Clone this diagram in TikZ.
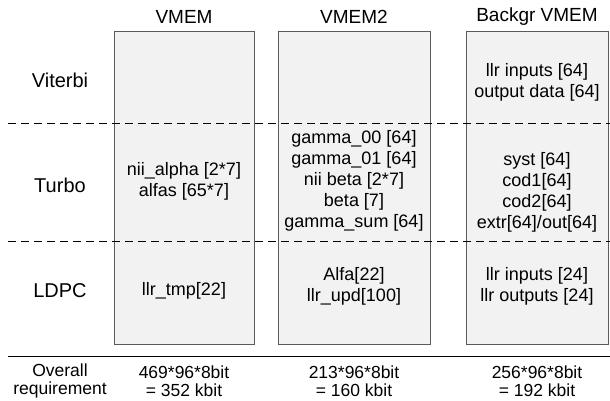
\documentclass[tikz,border=0pt]{standalone}
\usepackage{fontspec}
\setmainfont{Liberation Sans}
\usetikzlibrary{positioning}
\definecolor{memfill}{RGB}{242,242,242}
\definecolor{memline}{RGB}{90,90,90}
\tikzset{
  membox/.style={draw=memline, fill=memfill, semithick, minimum height=313pt, inner sep=0pt},
  memtext/.style={align=center, font=\fontsize{18}{21}\selectfont},
  sumtext/.style={align=center, font=\fontsize{17.5}{17.5}\selectfont},
  coltitle/.style={font=\fontsize{19}{22}\selectfont},
  rowlabel/.style={font=\fontsize{20}{24}\selectfont},
  sepline/.style={dash pattern=on 8pt off 5pt, thin},
}
\begin{document}
\begin{tikzpicture}[x=1pt, y=1pt]
  \useasboundingbox (0,0) rectangle (610,401);
  % memory columns
  \node[membox, minimum width=140pt] (vmem)   at (184,213.5) {};
  \node[membox, minimum width=152pt] (vmemtwo) at (354,213.5) {};
  \node[membox, minimum width=142pt] (backgr) at (537,213.5) {};

  \node[coltitle] (tvmem)   at (184,384) {VMEM};
  \node[coltitle] (tvmemtwo) at (354,384) {VMEM2};
  \node[coltitle] (tbackgr) at (537,384) {Backgr VMEM};

  % rows
  \node[rowlabel] (viterbi) at (60,321) {Viterbi};
  \node[rowlabel] (turbo)   at (60,216) {Turbo};
  \node[rowlabel] (ldpc)    at (60,110) {LDPC};

  \draw[sepline] (8,278) -- (610,278);
  \draw[sepline] (8,160) -- (610,160);
  \draw[thin] (8,45) -- (610,45);

  % contents
  \node[memtext] (vturbo) at (184,220) {nii\_alpha [2*7]\\alfas [65*7]};
  \node[memtext] (vldpc)  at (184,110) {llr\_tmp[22]};
  \node[memtext] (wturbo) at (354,220) {gamma\_00 [64]\\gamma\_01 [64]\\nii beta [2*7]\\beta [7]\\gamma\_sum [64]};
  \node[memtext] (wldpc)  at (354,115) {Alfa[22]\\llr\_upd[100]};
  \node[memtext] (bviterbi) at (537,319) {llr inputs [64]\\output data [64]};
  \node[memtext] (bturbo)   at (537,209) {syst [64]\\cod1[64]\\cod2[64]\\extr[64]/out[64]};
  \node[memtext] (bldpc)    at (537,115) {llr inputs [24]\\llr outputs [24]};

  % totals
  \node[sumtext] (overall) at (60,20) {Overall\\requirement};
  \node[sumtext] (svmem)   at (184,20) {469*96*8bit\\= 352 kbit};
  \node[sumtext] (svmemtwo) at (354,20) {213*96*8bit\\= 160 kbit};
  \node[sumtext] (sbackgr) at (537,20) {256*96*8bit\\= 192 kbit};
\end{tikzpicture}
\end{document}
